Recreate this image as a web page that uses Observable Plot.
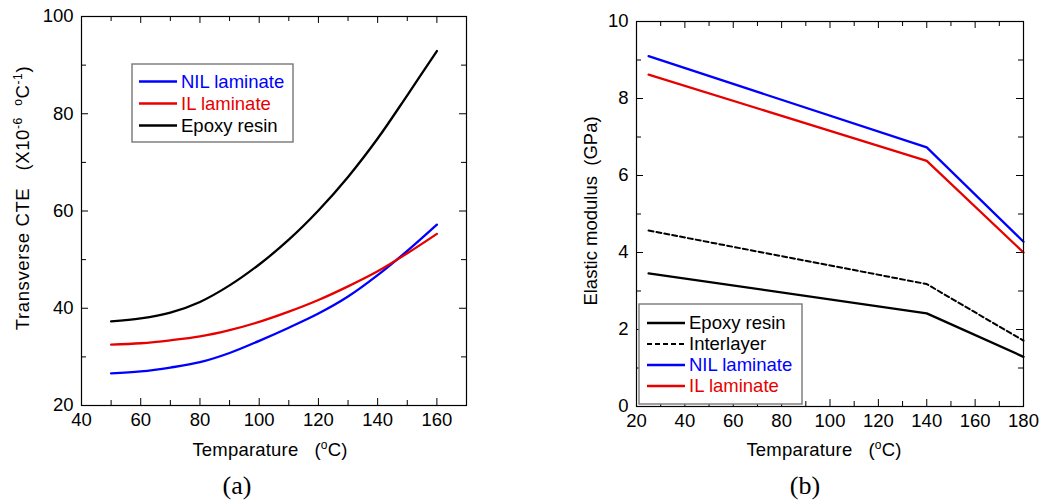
<!DOCTYPE html>
<html><head><meta charset="utf-8">
<script src="https://cdn.jsdelivr.net/npm/d3@7"></script>
<script src="https://cdn.jsdelivr.net/npm/@observablehq/plot@0.6"></script>
<style>
body{margin:0;background:#fff;}
#wrap{position:relative;width:1043px;height:502px;overflow:hidden;background:#fff;font-family:"Liberation Sans",Arial,sans-serif;}
.panel{position:absolute;top:0;}
.cap{position:absolute;top:470px;font-family:"Liberation Serif","Times New Roman",serif;font-size:26px;line-height:32px;transform:translateX(-50%);color:#000;}
.lab{position:absolute;font-family:"Liberation Sans",Arial,sans-serif;font-size:18.5px;line-height:20px;white-space:pre;color:#000;}
.lab sup{font-size:12px;vertical-align:0;position:relative;top:-7px;line-height:0;}
</style></head><body><div id="wrap"></div>
<script>
// ---------- Panel (a): transverse CTE ----------
const tempA = [50, 60, 70, 80, 90, 100, 110, 120, 130, 140, 150, 160];
const cteNIL = [26.6, 27.0, 27.8, 28.9, 30.8, 33.3, 36.0, 38.9, 42.4, 46.8, 51.8, 57.2];
const cteIL = [32.5, 32.8, 33.4, 34.2, 35.5, 37.2, 39.3, 41.7, 44.5, 47.6, 51.3, 55.3];
const cteEpoxy = [37.3, 37.9, 39.1, 41.3, 44.7, 49.0, 54.1, 60.1, 67.0, 74.9, 83.8, 92.9];
const seriesA = ["NIL laminate", "IL laminate", "Epoxy resin"];
const xTicksA = [40, 60, 80, 100, 120, 140, 160];
const xMinorA = [50, 70, 90, 110, 130, 150, 170];
const yTicksA = [20, 40, 60, 80, 100];
const yMinorA = [30, 50, 70, 90];

// ---------- Panel (b): elastic modulus ----------
const tempB = [25, 140, 180];
const modEpoxy = [3.46, 2.42, 1.29];
const modInter = [4.57, 3.18, 1.71];
const modNIL = [9.10, 6.73, 4.28];
const modIL = [8.62, 6.38, 4.00];
const seriesB = ["Epoxy resin", "Interlayer", "NIL laminate", "IL laminate"];
const xTicksB = [20, 40, 60, 80, 100, 120, 140, 160, 180];
const xMinorB = [30, 50, 70, 90, 110, 130, 150, 170];
const yTicksB = [0, 2, 4, 6, 8, 10];
const yMinorB = [1, 3, 5, 7, 9];

const colorOf = {"NIL laminate": "#0000ff", "IL laminate": "#e80000", "Epoxy resin": "#000000", "Interlayer": "#000000"};

const rowsA = [];
[cteNIL, cteIL, cteEpoxy].forEach((arr, i) => arr.forEach((v, j) => rowsA.push({series: seriesA[i], t: tempA[j], v})));
const rowsB = [];
[modEpoxy, modInter, modNIL, modIL].forEach((arr, i) => arr.forEach((v, j) => rowsB.push({series: seriesB[i], t: tempB[j], v})));

const FONT = '"Liberation Sans", Arial, sans-serif';
const wrap = document.getElementById("wrap");

function framedTicks(innerW, innerH, xMaj, xMin, yMaj, yMin) {
  const LM = 7, Lm = 5;
  const o = {stroke: "black", strokeWidth: 1};
  return [
    Plot.tickX(xMaj, {x: d => d, insetTop: innerH - LM, ...o}),
    Plot.tickX(xMin, {x: d => d, insetTop: innerH - Lm, ...o}),
    Plot.tickX(xMaj, {x: d => d, insetBottom: innerH - LM, ...o}),
    Plot.tickX(xMin, {x: d => d, insetBottom: innerH - Lm, ...o}),
    Plot.tickY(yMaj, {y: d => d, insetRight: innerW - LM, ...o}),
    Plot.tickY(yMin, {y: d => d, insetRight: innerW - Lm, ...o}),
    Plot.tickY(yMaj, {y: d => d, insetLeft: innerW - LM, ...o}),
    Plot.tickY(yMin, {y: d => d, insetLeft: innerW - Lm, ...o})
  ];
}

function makePlot(cfg) {
  const innerW = cfg.width - cfg.ml - cfg.mr;
  const innerH = cfg.height - cfg.mt - cfg.mb;
  return Plot.plot({
    width: cfg.width, height: cfg.height,
    marginTop: cfg.mt, marginBottom: cfg.mb, marginLeft: cfg.ml, marginRight: cfg.mr,
    style: {fontFamily: FONT, fontSize: "18.5px", color: "black", background: "transparent", overflow: "visible"},
    x: {domain: cfg.xDomain},
    y: {domain: cfg.yDomain},
    color: {domain: Object.keys(colorOf), range: Object.values(colorOf)},
    marks: [
      ...framedTicks(innerW, innerH, cfg.xMaj, cfg.xMin, cfg.yMaj, cfg.yMin),
      Plot.axisX(cfg.xMaj, {tickSize: 0, tickPadding: 7, label: null, fill: "black"}),
      Plot.axisY(cfg.yMaj, {tickSize: 0, tickPadding: 8, label: null, fill: "black"}),
      ...cfg.lines,
      Plot.frame({stroke: "black", strokeWidth: 1.2})
    ]
  });
}

// Panel (a)
const svgA = makePlot({
  width: 480, height: 470, mt: 16, mb: 65, ml: 81, mr: 14,
  xDomain: [40, 170], yDomain: [20, 100],
  xMaj: xTicksA, xMin: xMinorA, yMaj: yTicksA, yMin: yMinorA,
  lines: [Plot.line(rowsA, {x: "t", y: "v", z: "series", stroke: "series", strokeWidth: 2.3, curve: "catmull-rom"})]
});
svgA.classList.add("panel");
svgA.style.left = "0px";
wrap.appendChild(svgA);

// Panel (b)
const svgB = makePlot({
  width: 503, height: 470, mt: 21, mb: 64, ml: 96, mr: 20,
  xDomain: [20, 180], yDomain: [0, 10],
  xMaj: xTicksB, xMin: xMinorB, yMaj: yTicksB, yMin: yMinorB,
  lines: [
    Plot.line(rowsB.filter(d => d.series !== "Interlayer"), {x: "t", y: "v", z: "series", stroke: "series", strokeWidth: 2.3}),
    Plot.line(rowsB.filter(d => d.series === "Interlayer"), {x: "t", y: "v", stroke: "series", strokeWidth: 2, strokeDasharray: "5,3"})
  ]
});
svgB.classList.add("panel");
svgB.style.left = "540px";
wrap.appendChild(svgB);

// ---------- axis titles (HTML with superscripts) ----------
function label(html, x, y, rotate, spacing) {
  const d = document.createElement("div");
  d.className = "lab";
  d.innerHTML = html;
  d.style.left = x + "px";
  d.style.top = y + "px";
  if (spacing) d.style.letterSpacing = spacing;
  d.style.transform = "translate(-50%,-50%)" + (rotate ? " rotate(-90deg)" : "");
  wrap.appendChild(d);
}
const xLab = "Temparature   (<sup>o</sup>C)";
label(xLab, 270, 450, false, "0.2px");
label(xLab, 824, 450, false, "0.2px");
label("Transverse CTE   (X10<sup>-6</sup>  <sup>o</sup>C<sup>-1</sup>)", 23, 198, true, "0.6px");
label("Elastic modulus  (GPa)", 591, 211, true);

// ---------- legends ----------
function legend(svg, box, rows) {
  const g = d3.select(svg).append("g");
  g.append("rect").attr("x", box.x).attr("y", box.y).attr("width", box.w).attr("height", box.h)
    .attr("fill", "white").attr("stroke", "#777").attr("stroke-width", 1.4);
  rows.forEach((r, i) => {
    const y = box.row0 + i * box.step;
    g.append("line").attr("x1", box.lx1).attr("x2", box.lx2).attr("y1", y).attr("y2", y)
      .attr("stroke", colorOf[r]).attr("stroke-width", r === "Interlayer" ? 2 : 2.5)
      .attr("stroke-dasharray", r === "Interlayer" ? "5,3" : null);
    g.append("text").attr("x", box.tx).attr("y", y).attr("dy", "0.35em")
      .attr("text-anchor", "start")
      .attr("font-family", FONT).attr("font-size", 18.5).attr("fill", colorOf[r]).text(r);
  });
}
legend(svgA, {x: 132, y: 64, w: 161, h: 78, row0: 81.5, step: 22, lx1: 139, lx2: 177, tx: 181}, seriesA);
legend(svgB, {x: 99, y: 304, w: 163, h: 100, row0: 323, step: 21, lx1: 107, lx2: 145, tx: 149}, seriesB);

// ---------- captions ----------
[["(a)", 237], ["(b)", 805]].forEach(([s, x]) => {
  const d = document.createElement("div");
  d.className = "cap"; d.style.left = x + "px"; d.textContent = s;
  wrap.appendChild(d);
});
</script>
</body></html>
